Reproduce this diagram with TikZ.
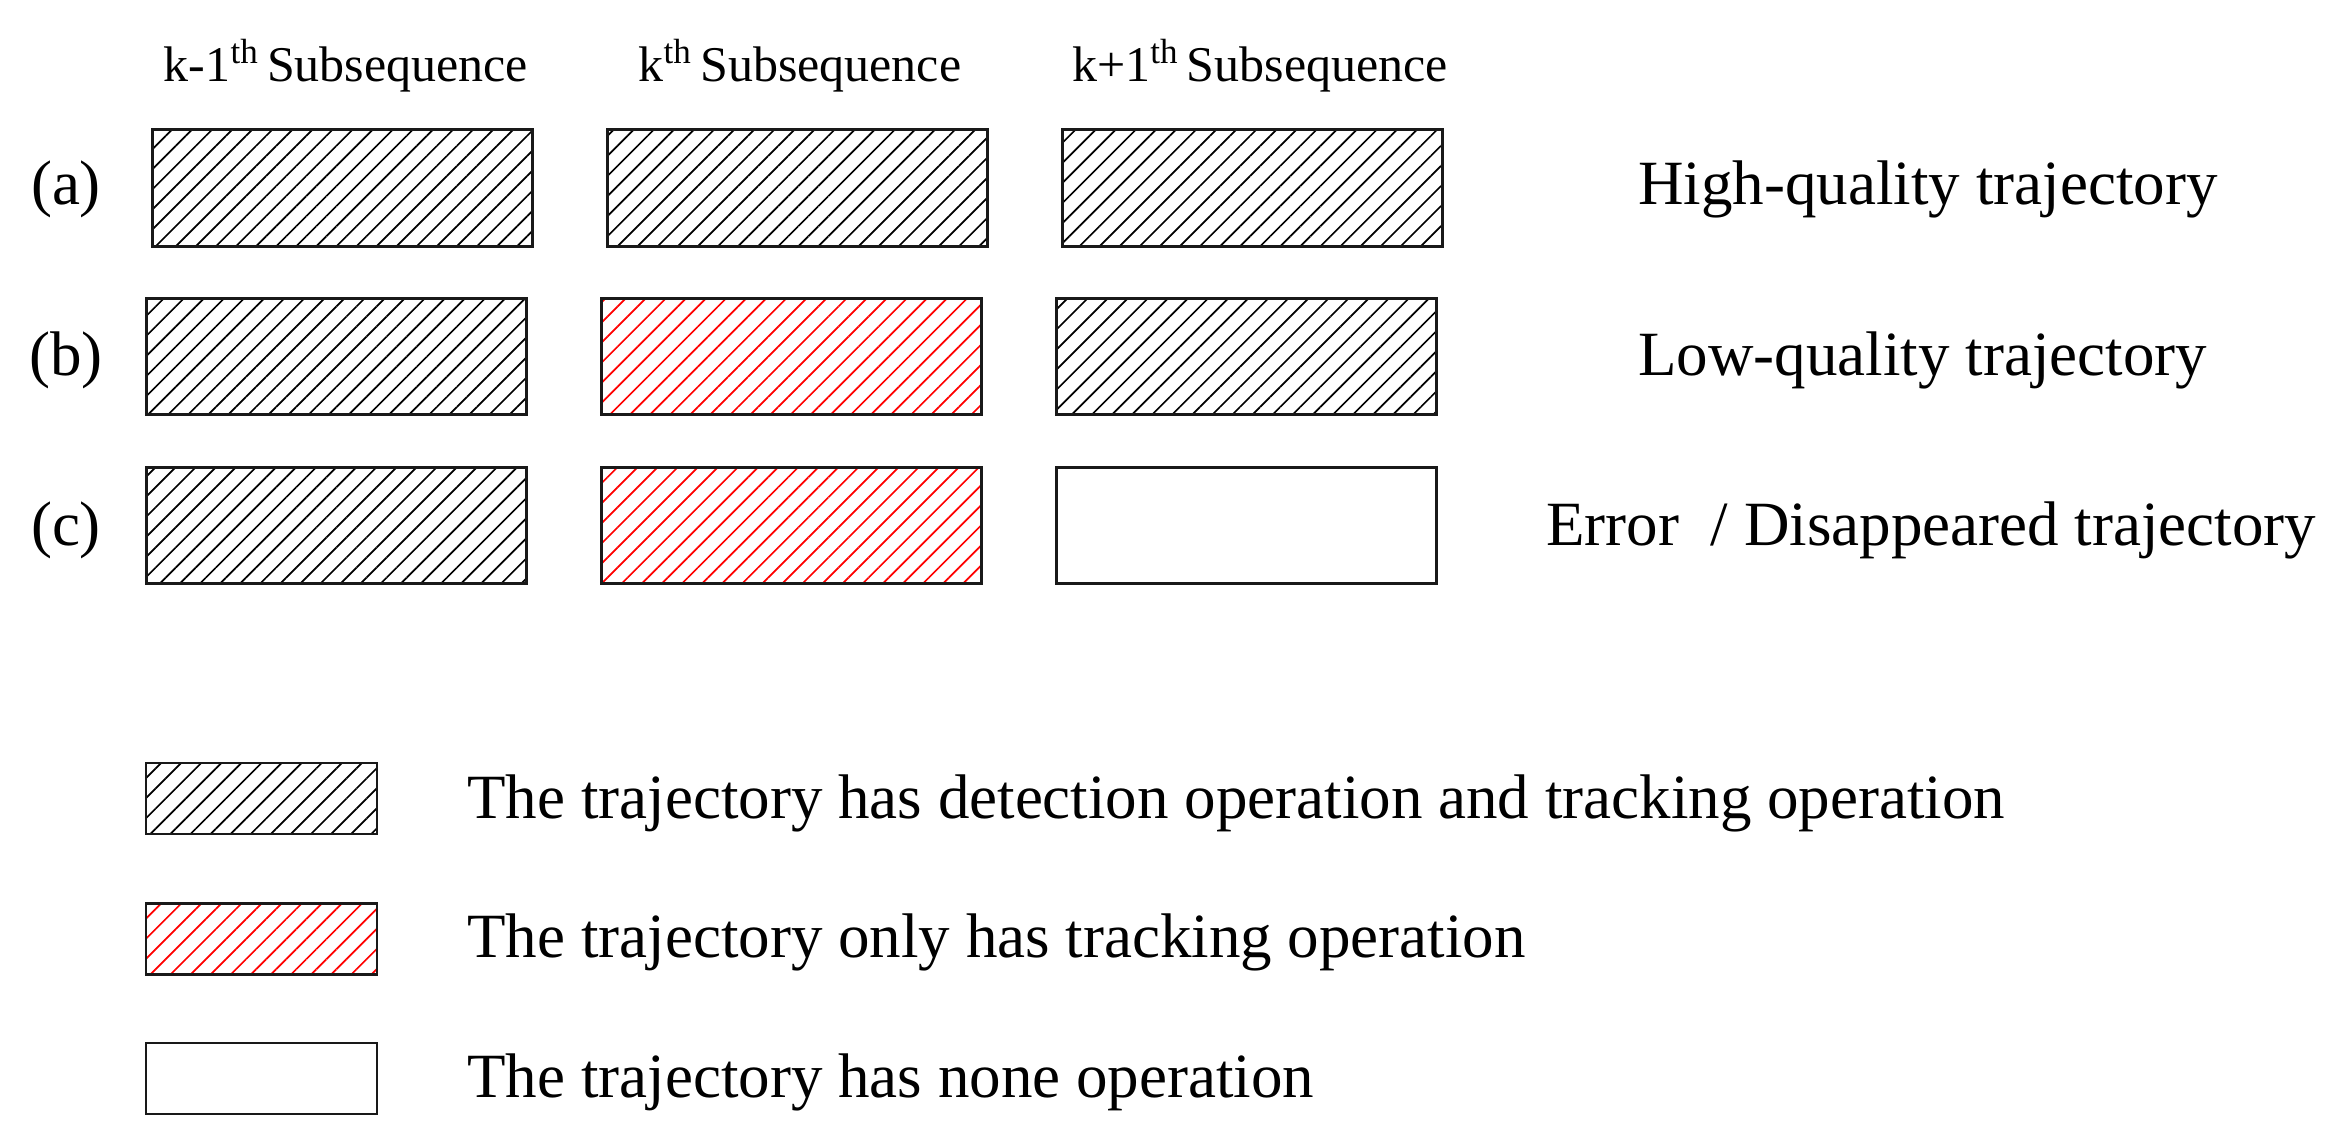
\documentclass[tikz,border=0pt]{standalone}
\usepackage{fontspec}
\setmainfont{Liberation Serif}
\usetikzlibrary{patterns.meta}
\begin{document}
\begin{tikzpicture}[x=0.5pt,y=-0.5pt,
  cell/.style={draw=black!90, line width=1.5pt, minimum width=190pt, minimum height=58pt, inner sep=0pt, outer sep=0pt},
  keybox/.style={draw=black!90, line width=1.4pt, minimum width=115.5pt, minimum height=35.5pt, inner sep=0pt, outer sep=0pt},
  hblack/.style={pattern={Lines[angle=45,distance=7.1pt,line width=0.85pt]}, pattern color=black},
  hred/.style={pattern={Lines[angle=45,distance=7.1pt,line width=0.85pt]}, pattern color=red},
  bigtxt/.style={font=\fontsize{31.5}{36}\selectfont, inner sep=0pt},
  headtxt/.style={font=\fontsize{25}{30}\selectfont, inner sep=0pt, anchor=base}
]
\useasboundingbox (0,0) rectangle (2340,1145);
\fill[white] (0,0) rectangle (2340,1145);

% headers
\node[headtxt] (h1) at (346,82) {k-1\textsuperscript{th}\,Subsequence};
\node[headtxt] (h2) at (800,82) {k\textsuperscript{th}\,Subsequence};
\node[headtxt] (h3) at (1260,82) {k+1\textsuperscript{th}\,Subsequence};

% row labels
\node[bigtxt, anchor=base] (la) at (66,205) {(a)};
\node[bigtxt, anchor=base] (lb) at (66,375) {(b)};
\node[bigtxt, anchor=base] (lc) at (66,545) {(c)};

% row (a)
\node[cell, hblack] (a1) at (342,188) {};
\node[cell, hblack] (a2) at (797,188) {};
\node[cell, hblack] (a3) at (1252,188) {};
% row (b)
\node[cell, hblack] (b1) at (336,356) {};
\node[cell, hred]   (b2) at (791,356) {};
\node[cell, hblack] (b3) at (1246,356) {};
% row (c)
\node[cell, hblack] (c1) at (336,525.5) {};
\node[cell, hred]   (c2) at (791,525.5) {};
\node[cell]         (c3) at (1246,525.5) {};

% right labels
\node[bigtxt, anchor=base west] (ra) at (1638,205) {High-quality trajectory};
\node[bigtxt, anchor=base west] (rb) at (1638,375) {Low-quality trajectory};
\node[bigtxt, anchor=base west] (rc) at (1546,545) {Error \ / Disappeared trajectory};

% legend
\node[keybox, hblack] (k1) at (261.5,798.5) {};
\node[keybox, hred]   (k2) at (261.5,939) {};
\node[keybox]         (k3) at (261.5,1078.5) {};
\node[bigtxt, anchor=base west] (t1) at (467,818) {The trajectory has detection operation and tracking operation};
\node[bigtxt, anchor=base west] (t2) at (467,957) {The trajectory only has tracking operation};
\node[bigtxt, anchor=base west] (t3) at (467,1097) {The trajectory has none operation};
\end{tikzpicture}
\end{document}
